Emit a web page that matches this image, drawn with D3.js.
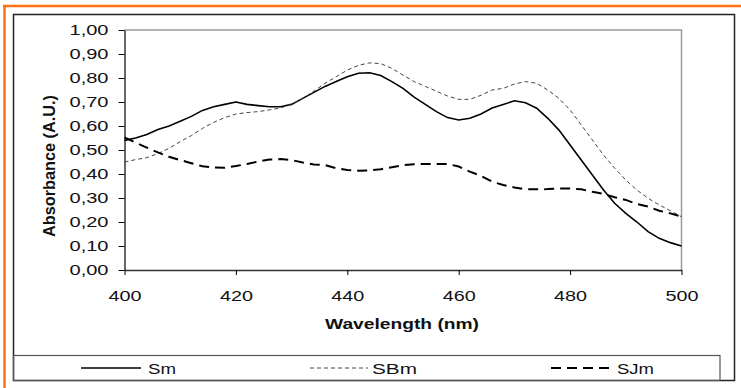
<!DOCTYPE html>
<html>
<head>
<meta charset="utf-8">
<script src="https://cdn.jsdelivr.net/npm/d3@7"></script>
<style>
body { margin: 0; background: #fff; }
svg { display: block; font-family: Arial, "Liberation Sans", sans-serif; }
</style>
</head>
<body>
<script>
// wavelength (nm) of each reading
var wavelengths = [400, 402, 404, 406, 408, 410, 412, 414, 416, 418,
    420, 422, 424, 426, 428, 430, 432, 434, 436, 438,
    440, 442, 444, 446, 448, 450, 452, 454, 456, 458,
    460, 462, 464, 466, 468, 470, 472, 474, 476, 478,
    480, 482, 484, 486, 488, 490, 492, 494, 496, 498, 500];

var sm = [0.54, 0.55, 0.565, 0.585, 0.60, 0.62, 0.64, 0.665, 0.68, 0.69,
    0.70, 0.69, 0.685, 0.68, 0.68, 0.69, 0.715, 0.74, 0.765, 0.785,
    0.805, 0.82, 0.822, 0.81, 0.785, 0.757, 0.72, 0.69, 0.66, 0.635,
    0.625, 0.632, 0.65, 0.675, 0.69, 0.705, 0.697, 0.674, 0.632, 0.583,
    0.521, 0.458, 0.396, 0.333, 0.278, 0.236, 0.20, 0.16, 0.132, 0.114, 0.10];

var sbm = [0.45, 0.46, 0.468, 0.485, 0.507, 0.535, 0.56, 0.59, 0.615, 0.635,
    0.65, 0.656, 0.66, 0.667, 0.675, 0.69, 0.715, 0.745, 0.778, 0.805,
    0.833, 0.853, 0.863, 0.86, 0.84, 0.812, 0.785, 0.765, 0.745, 0.725,
    0.711, 0.711, 0.728, 0.75, 0.757, 0.775, 0.785, 0.778, 0.75, 0.715,
    0.667, 0.604, 0.542, 0.479, 0.424, 0.375, 0.333, 0.299, 0.271, 0.247, 0.222];

var sjm = [0.553, 0.531, 0.51, 0.49, 0.472, 0.458, 0.445, 0.432, 0.427, 0.426,
    0.433, 0.442, 0.452, 0.46, 0.462, 0.458, 0.448, 0.44, 0.437, 0.424,
    0.417, 0.414, 0.415, 0.42, 0.428, 0.437, 0.441, 0.442, 0.442, 0.442,
    0.431, 0.41, 0.392, 0.368, 0.354, 0.344, 0.336, 0.336, 0.337, 0.34,
    0.34, 0.336, 0.326, 0.317, 0.303, 0.292, 0.275, 0.264, 0.247, 0.236, 0.222];

var seriesNames = ["Sm", "SBm", "SJm"];
var xTicks = [400, 420, 440, 460, 480, 500];
var yTicks = [0, 0.1, 0.2, 0.3, 0.4, 0.5, 0.6, 0.7, 0.8, 0.9, 1.0];
var yTickLabels = ["0,00", "0,10", "0,20", "0,30", "0,40", "0,50", "0,60", "0,70", "0,80", "0,90", "1,00"];
var xTitle = "Wavelength (nm)";
var yTitle = "Absorbance (A.U.)";

var W = 741, H = 388;
var plot = { left: 124.5, right: 681.5, top: 30, bottom: 270 };

var x = d3.scaleLinear().domain([400, 500]).range([plot.left, plot.right]);
var y = d3.scaleLinear().domain([0, 1]).range([plot.bottom, plot.top]);

var svg = d3.select("body").append("svg")
    .attr("width", W)
    .attr("height", H);

svg.append("rect").attr("width", W).attr("height", H).attr("fill", "#fff");

// orange frame (top + left only visible)
svg.append("line").attr("x1", 3).attr("x2", W).attr("y1", 6).attr("y2", 6)
    .attr("stroke", "#ff6f15").attr("stroke-width", 2.5);
svg.append("line").attr("x1", 4.5).attr("x2", 4.5).attr("y1", 5).attr("y2", H)
    .attr("stroke", "#ff6f15").attr("stroke-width", 2.5);

// chart border
svg.append("rect")
    .attr("x", 13.5).attr("y", 14.5)
    .attr("width", 721).attr("height", 366)
    .attr("fill", "none").attr("stroke", "#222").attr("stroke-width", 1.5);

// plot top / right frame
svg.append("path")
    .attr("d", "M" + plot.left + "," + plot.top + "H" + plot.right + "V" + plot.bottom)
    .attr("fill", "none").attr("stroke", "#9a9a9a").attr("stroke-width", 1.5);

var yAxis = d3.axisLeft(y)
    .tickValues(yTicks)
    .tickSize(6)
    .tickSizeOuter(0)
    .tickPadding(10)
    .tickFormat(function(d, i) { return yTickLabels[i]; });

var xAxis = d3.axisBottom(x)
    .tickValues(xTicks)
    .tickSize(5)
    .tickSizeOuter(0)
    .tickPadding(16);

var gx = svg.append("g")
    .attr("transform", "translate(0," + plot.bottom + ")")
    .call(xAxis);
gx.select(".domain").attr("stroke", "#333").attr("stroke-width", 1.5);
gx.selectAll(".tick line").attr("stroke", "#000");
gx.selectAll(".tick text")
    .attr("font-size", 14)
    .attr("fill", "#111")
    .attr("font-family", "Arial, 'Liberation Sans', sans-serif")
    .attr("textLength", 33)
    .attr("lengthAdjust", "spacingAndGlyphs");

var gy = svg.append("g")
    .attr("transform", "translate(" + plot.left + ",0)")
    .call(yAxis);
gy.select(".domain").attr("stroke", "#000").attr("stroke-width", 1.2);
gy.selectAll(".tick line").attr("stroke", "#000");
gy.selectAll(".tick text")
    .attr("font-size", 14)
    .attr("fill", "#111")
    .attr("font-family", "Arial, 'Liberation Sans', sans-serif")
    .attr("textLength", 39)
    .attr("lengthAdjust", "spacingAndGlyphs");

// axis titles
svg.append("text")
    .attr("x", 402).attr("y", 329)
    .attr("text-anchor", "middle")
    .attr("font-size", 14)
    .attr("font-weight", "bold")
    .attr("fill", "#111")
    .attr("textLength", 154)
    .attr("lengthAdjust", "spacingAndGlyphs")
    .text(xTitle);

svg.append("text")
    .attr("transform", "translate(55,166) rotate(-90)")
    .attr("text-anchor", "middle")
    .attr("font-size", 16)
    .attr("font-weight", "bold")
    .attr("fill", "#111")
    .attr("textLength", 142)
    .attr("lengthAdjust", "spacingAndGlyphs")
    .text(yTitle);

// series
var series = [
    { name: seriesNames[0], values: sm, stroke: "#000", width: 1.6, dash: null },
    { name: seriesNames[1], values: sbm, stroke: "#444", width: 1, dash: "4,3" },
    { name: seriesNames[2], values: sjm, stroke: "#000", width: 2, dash: "10,6" }
];

var line = d3.line()
    .x(function(d, i) { return x(wavelengths[i]); })
    .y(function(d) { return y(d); });

svg.append("g").selectAll("path")
    .data(series)
    .enter().append("path")
    .attr("d", function(d) { return line(d.values); })
    .attr("fill", "none")
    .attr("stroke", function(d) { return d.stroke; })
    .attr("stroke-width", function(d) { return d.width; })
    .attr("stroke-dasharray", function(d) { return d.dash; });

// legend
svg.append("rect")
    .attr("x", 13.5).attr("y", 355.5)
    .attr("width", 706.5).attr("height", 25)
    .attr("fill", "none").attr("stroke", "#555").attr("stroke-width", 1.2);

var legendPos = [
    { x1: 81, x2: 141, tx: 148, tw: 28 },
    { x1: 310, x2: 368, tx: 372, tw: 45 },
    { x1: 551, x2: 613, tx: 617, tw: 37 }
];

var legend = svg.append("g").selectAll("g")
    .data(series)
    .enter().append("g");

legend.append("line")
    .attr("x1", function(d, i) { return legendPos[i].x1; })
    .attr("x2", function(d, i) { return legendPos[i].x2; })
    .attr("y1", 368).attr("y2", 368)
    .attr("stroke", function(d) { return d.stroke; })
    .attr("stroke-width", function(d) { return d.width; })
    .attr("stroke-dasharray", function(d) { return d.dash; });

legend.append("text")
    .attr("x", function(d, i) { return legendPos[i].tx; })
    .attr("y", 373.5)
    .attr("font-size", 15)
    .attr("fill", "#111")
    .attr("textLength", function(d, i) { return legendPos[i].tw; })
    .attr("lengthAdjust", "spacingAndGlyphs")
    .text(function(d) { return d.name; });
</script>
</body>
</html>
